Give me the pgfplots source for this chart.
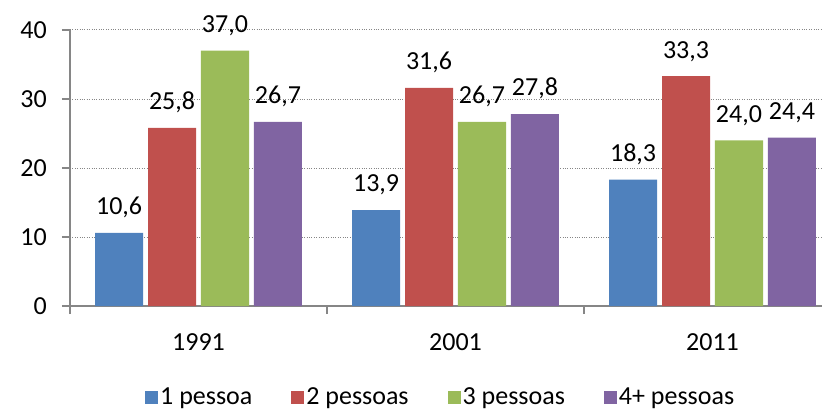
\documentclass[border=0pt]{standalone}
\usepackage{fontspec}
\setmainfont{Carlito}
\usepackage{pgfplots}
\pgfplotsset{compat=1.18}

\definecolor{cA}{HTML}{4F81BD}
\definecolor{cB}{HTML}{C0504D}
\definecolor{cC}{HTML}{9BBB59}
\definecolor{cD}{HTML}{8064A2}
\definecolor{axgray}{HTML}{868686}

\pgfplotsset{
  sq/.style={fill=#1, draw=none,
    legend image code/.code={\fill[##1] (0bp,-6.5bp) rectangle (13bp,6.5bp);}},
}

\begin{document}
\fontsize{26bp}{30bp}\selectfont
\begin{tikzpicture}
\useasboundingbox (-70bp,-104bp) rectangle (755bp,306bp);
\begin{axis}[
  at={(0,0)}, anchor=south west,
  scale only axis, width=752bp, height=276bp,
  xmin=-0.5, xmax=2.426, ymin=0, ymax=40,
  ybar, bar width=0.187,
  axis x line*=bottom, axis y line*=left,
  axis line style={axgray, line width=1.5bp},
  xtick={-0.5,0.5,1.5}, xticklabels={},
  extra x ticks={0,1,2}, extra x tick labels={1991,2001,2011},
  extra x tick style={major tick length=0pt, grid=none},
  ytick={0,10,20,30,40},
  ymajorgrids, grid style={axgray, dotted, line width=1bp},
  tick align=outside, major tick length=8bp,
  tick style={axgray, line width=1.5bp},
  /pgf/number format/assume math mode=true,
  xticklabel style={anchor=base, inner sep=0pt, yshift=-44bp},
  yticklabel style={anchor=east, inner sep=0pt, xshift=-15bp},
  nodes near coords={\pgfmathprintnumber[fixed, fixed zerofill, precision=1, use comma]{\pgfplotspointmeta}},
  nodes near coords style={anchor=south, inner sep=0pt, text depth=0pt, yshift=18bp, black},
  legend columns=4,
  legend style={draw=none, fill=none, at={(0.493,-0.333)}, anchor=center,
    /tikz/every even column/.append style={column sep=37bp}},
]
\addplot[sq=cA, bar shift=-0.309] coordinates {(0,10.6) (1,13.9) (2,18.3)};
\addplot[sq=cB, bar shift=-0.103] coordinates {(0,25.8) (1,31.6) (2,33.3)};
\addplot[sq=cC, bar shift=0.103] coordinates {(0,37.0) (1,26.7) (2,24.0)};
\addplot[sq=cD, bar shift=0.309] coordinates {(0,26.7) (1,27.8) (2,24.4)};
\legend{1 pessoa, 2 pessoas, 3 pessoas, 4+ pessoas}
\end{axis}
\end{tikzpicture}
\end{document}
